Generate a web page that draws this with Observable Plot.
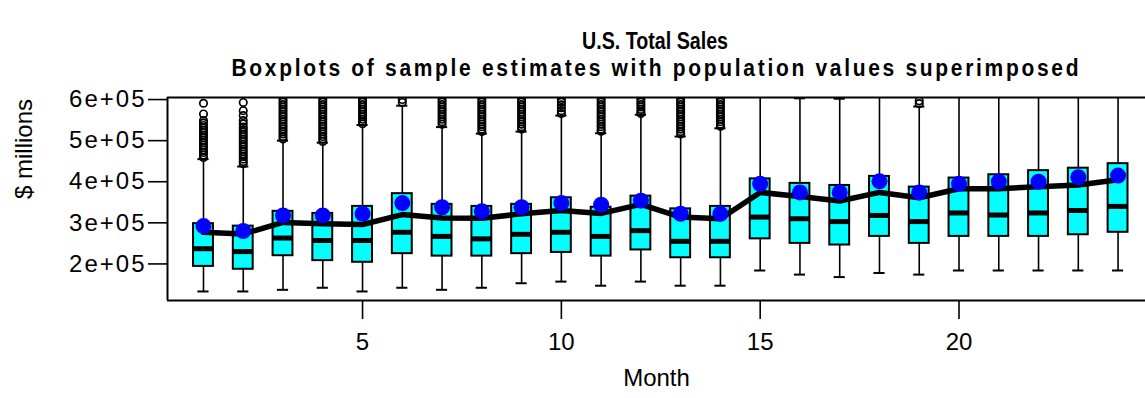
<!DOCTYPE html>
<html>
<head>
<meta charset="utf-8">
<script src="https://cdn.jsdelivr.net/npm/d3@7"></script>
<script src="https://cdn.jsdelivr.net/npm/@observablehq/plot@0.6"></script>
<style>
  html, body { margin: 0; padding: 0; background: #fff; overflow: hidden; }
  #chart svg { display: block; }
  #chart g[aria-label="y-axis tick label"] text { letter-spacing: 2px; }
</style>
</head>
<body>
<div id="chart"></div>
<script>
// ---- data -------------------------------------------------------------
const title = "U.S. Total Sales";
const subtitle = "Boxplots of sample estimates with population values superimposed";

const months = [1, 2, 3, 4, 5, 6, 7, 8, 9, 10, 11, 12, 13, 14, 15, 16, 17, 18, 19, 20, 21, 22, 23, 24];

// Five-number summaries of the sample estimates per month ($ millions)
const whiskerLow = [133e3, 133e3, 137e3, 142e3, 133e3, 142e3, 137e3, 142e3, 153e3, 157e3, 147e3, 157e3,
                    147e3, 147e3, 184e3, 174e3, 168e3, 178e3, 174e3, 184e3, 184e3, 184e3, 184e3, 184e3];
const q1 = [194e3, 187e3, 220e3, 208e3, 204e3, 225e3, 219e3, 219e3, 225e3, 228e3, 219e3, 234e3,
            215e3, 215e3, 261e3, 250e3, 246e3, 267e3, 250e3, 267e3, 267e3, 267e3, 271e3, 277e3];
const median = [237e3, 230e3, 263e3, 257e3, 257e3, 277e3, 267e3, 261e3, 272e3, 277e3, 267e3, 281e3,
                255e3, 255e3, 314e3, 310e3, 303e3, 318e3, 303e3, 324e3, 319e3, 324e3, 330e3, 340e3];
const q3 = [298e3, 292e3, 328e3, 323e3, 340e3, 371e3, 345e3, 340e3, 345e3, 361e3, 338e3, 365e3,
            334e3, 340e3, 407e3, 396e3, 391e3, 413e3, 387e3, 409e3, 417e3, 427e3, 433e3, 444e3];
const whiskerHigh = [455e3, 437e3, 500e3, 495e3, 538e3, 585e3, 533e3, 517e3, 522e3, 561e3, 518e3, 563e3,
                     510e3, 530e3, 640e3, 603e3, 602e3, 640e3, 583e3, 640e3, 640e3, 640e3, 640e3, 640e3];

// Mean of the sample estimates (line) and population values (points)
const sampleMean = [277e3, 273e3, 301e3, 298e3, 296e3, 320e3, 312e3, 311e3, 322e3, 330e3, 323e3, 345e3,
                    314e3, 310e3, 374e3, 364e3, 353e3, 374e3, 361e3, 383e3, 383e3, 388e3, 392e3, 405e3];
const population = [292e3, 280e3, 318e3, 318e3, 322e3, 348e3, 338e3, 328e3, 338e3, 348e3, 344e3, 354e3,
                    322e3, 322e3, 395e3, 374e3, 374e3, 401e3, 374e3, 395e3, 400e3, 400e3, 411e3, 415e3];

// Outlying sample estimates beyond the upper whisker, by month
const outliers = [
  [1, [591e3, 565e3, 549e3, 543e3, 537e3, 531e3, 525e3, 519e3, 513e3, 507e3, 501e3, 495e3, 489e3, 483e3, 477e3, 471e3, 465e3, 459e3]],
  [2, [593e3, 573e3, 561e3, 549e3, 541e3, 533e3, 527e3, 521e3, 515e3, 509e3, 503e3, 497e3, 491e3, 485e3, 479e3, 473e3, 467e3, 461e3, 455e3, 449e3, 444e3]],
  [3, [600e3, 594e3, 588e3, 582e3, 576e3, 570e3, 564e3, 558e3, 552e3, 546e3, 540e3, 534e3, 528e3, 522e3, 516e3, 510e3, 504e3]],
  [4, [600e3, 594e3, 588e3, 582e3, 576e3, 570e3, 564e3, 558e3, 552e3, 546e3, 540e3, 534e3, 528e3, 522e3, 516e3, 510e3, 504e3, 498e3]],
  [5, [600e3, 594e3, 588e3, 582e3, 576e3, 570e3, 564e3, 558e3, 552e3, 546e3, 541e3]],
  [6, [600e3, 593e3]],
  [7, [600e3, 594e3, 588e3, 582e3, 576e3, 570e3, 564e3, 558e3, 552e3, 546e3, 540e3]],
  [8, [600e3, 594e3, 588e3, 582e3, 576e3, 570e3, 564e3, 558e3, 552e3, 546e3, 540e3, 534e3, 528e3, 522e3]],
  [9, [600e3, 594e3, 588e3, 582e3, 576e3, 570e3, 564e3, 558e3, 552e3, 546e3, 540e3, 534e3, 528e3]],
  [10, [600e3, 594e3, 587e3, 580e3, 573e3, 566e3]],
  [11, [600e3, 594e3, 588e3, 582e3, 576e3, 570e3, 564e3, 558e3, 552e3, 546e3, 540e3, 534e3, 528e3, 523e3]],
  [12, [600e3, 594e3, 588e3, 582e3, 576e3, 570e3, 566e3]],
  [13, [600e3, 594e3, 588e3, 582e3, 576e3, 570e3, 564e3, 558e3, 552e3, 546e3, 540e3, 534e3, 528e3, 522e3, 516e3]],
  [14, [600e3, 594e3, 588e3, 582e3, 576e3, 570e3, 564e3, 558e3, 552e3, 546e3, 540e3, 535e3]],
  [19, [597e3, 590e3]]
];

const yTicks = [200000, 300000, 400000, 500000, 600000];
const yTickLabels = ["2e+05", "3e+05", "4e+05", "5e+05", "6e+05"];
const xTicks = [5, 10, 15, 20];

// ---- tables built from the arrays ------------------------------------
const stats = months.map((m, i) => ({
  month: m, low: whiskerLow[i], q1: q1[i], median: median[i], q3: q3[i], high: whiskerHigh[i],
  mean: sampleMean[i], pop: population[i]
}));
const outlierRows = outliers.flatMap(([m, vals]) => vals.map(v => ({month: m, value: v})));

const xDomain = [0.095, 24.69];
const yDomain = [111000, 605000];
const boxHalf = 0.25;   // half box width in months
const capHalf = 0.14;   // half staple width

// ---- heading ----------------------------------------------------------
const head = d3.create("svg")
  .attr("width", 1145).attr("height", 84)
  .attr("font-family", "'Liberation Sans', Arial, sans-serif")
  .attr("font-weight", "bold").attr("fill", "black");
head.append("text")
  .attr("transform", "translate(655,49) scale(1,1.15)")
  .attr("text-anchor", "middle")
  .attr("font-size", 21).attr("textLength", 146).attr("lengthAdjust", "spacingAndGlyphs")
  .text(title);
head.append("text")
  .attr("transform", "translate(655,76) scale(1,1.15)")
  .attr("text-anchor", "middle")
  .attr("font-size", 21).attr("textLength", 847).attr("lengthAdjust", "spacing")
  .text(subtitle);

// ---- chart ------------------------------------------------------------
const chart = Plot.plot({
  width: 1145,
  height: 314,
  marginTop: 13,
  marginBottom: 98,
  marginLeft: 167,
  marginRight: 0,
  style: {fontFamily: "'Liberation Sans', Arial, sans-serif", fontSize: "24px", background: "white", color: "black"},
  x: {domain: xDomain, axis: null},
  y: {domain: yDomain, axis: null},
  marks: [
    // whiskers
    Plot.ruleX(stats, {x: "month", y1: "low", y2: "q1", stroke: "black", strokeWidth: 1.6, clip: true}),
    Plot.ruleX(stats, {x: "month", y1: "q3", y2: "high", stroke: "black", strokeWidth: 1.6, clip: true}),
    // staples
    Plot.ruleY(stats, {y: "low", x1: d => d.month - capHalf, x2: d => d.month + capHalf, stroke: "black", strokeWidth: 2, clip: true}),
    Plot.ruleY(stats, {y: "high", x1: d => d.month - capHalf, x2: d => d.month + capHalf, stroke: "black", strokeWidth: 2, clip: true}),
    // outliers
    Plot.dot(outlierRows, {x: "month", y: "value", r: 3.7, stroke: "black", strokeWidth: 1.7, fill: "none", clip: true}),
    // boxes
    Plot.rect(stats, {x1: d => d.month - boxHalf, x2: d => d.month + boxHalf, y1: "q1", y2: "q3",
                      fill: "#00ffff", stroke: "black", strokeWidth: 2}),
    // medians
    Plot.ruleY(stats, {y: "median", x1: d => d.month - boxHalf, x2: d => d.month + boxHalf, stroke: "black", strokeWidth: 5}),
    // mean of estimates
    Plot.line(stats, {x: "month", y: "mean", stroke: "black", strokeWidth: 5.5, strokeLinejoin: "round", strokeLinecap: "round"}),
    // population values
    Plot.dot(stats, {x: "month", y: "pop", r: 8, fill: "#0000ff"}),
    // plot box (top, bottom, left)
    Plot.ruleY(yDomain, {stroke: "black", strokeWidth: 2}),
    Plot.ruleX([xDomain[0]], {stroke: "black", strokeWidth: 2}),
    // axes
    Plot.axisY(yTicks, {tickSize: 19, tickPadding: 2, strokeWidth: 1.6, fontSize: 24,
                        tickFormat: d => yTickLabels[yTicks.indexOf(d)], label: null}),
    Plot.axisX(xTicks, {tickSize: 19, tickPadding: 13, strokeWidth: 1.6, fontSize: 24, label: null}),
    Plot.text(["Month"], {text: d => d, frameAnchor: "bottom", dy: 85, fontSize: 24}),
    Plot.text(["$ millions"], {text: d => d, frameAnchor: "left", dx: -143, rotate: -90, fontSize: 24})
  ]
});

const root = document.getElementById("chart");
root.appendChild(head.node());
root.appendChild(chart);
</script>
</body>
</html>
